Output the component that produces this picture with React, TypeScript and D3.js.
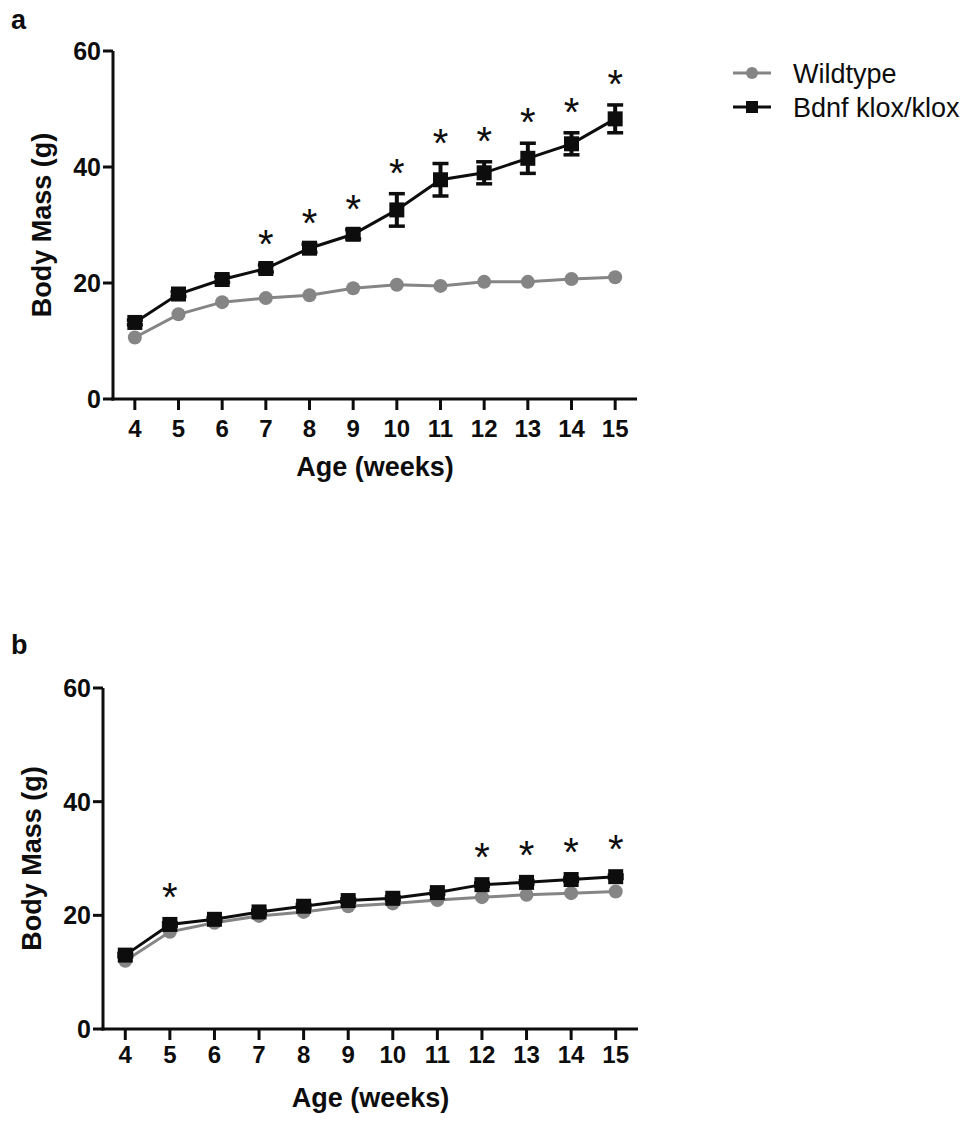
import React from "react";
import * as d3 from "d3";

const weeks = [4, 5, 6, 7, 8, 9, 10, 11, 12, 13, 14, 15];
const yTicks = [0, 20, 40, 60];

// Panel a
const aWildtype = [10.6, 14.6, 16.7, 17.4, 17.9, 19.1, 19.7, 19.5, 20.2, 20.2, 20.7, 21.0];
const aWildtypeSem = [0.3, 0.3, 0.3, 0.3, 0.3, 0.3, 0.3, 0.3, 0.3, 0.3, 0.3, 0.3];
const aKlox = [13.2, 18.1, 20.6, 22.5, 26.0, 28.4, 32.6, 37.8, 39.0, 41.5, 44.0, 48.3];
const aKloxSem = [0.4, 0.4, 0.5, 0.6, 0.7, 0.8, 2.8, 2.8, 1.9, 2.6, 1.9, 2.4];
const aSignificant = [7, 8, 9, 10, 11, 12, 13, 14, 15];

// Panel b
const bWildtype = [12.0, 17.1, 18.7, 19.9, 20.6, 21.6, 22.1, 22.7, 23.2, 23.6, 23.9, 24.2];
const bWildtypeSem = [0.3, 0.3, 0.3, 0.3, 0.3, 0.3, 0.3, 0.3, 0.3, 0.3, 0.3, 0.3];
const bKlox = [13.0, 18.4, 19.3, 20.6, 21.6, 22.6, 23.0, 24.0, 25.4, 25.8, 26.3, 26.8];
const bKloxSem = [0.3, 0.3, 0.3, 0.3, 0.3, 0.3, 0.3, 0.3, 0.3, 0.3, 0.3, 0.3];
const bSignificant = [5, 12, 13, 14, 15];

const legendLabels = ["Wildtype", "Bdnf klox/klox"];
const GRAY = "#858585";
const BLACK = "#0d0d0d";
const FONT = "'Liberation Sans', Arial, Helvetica, sans-serif";

type PanelProps = {
  letter: string;
  left: number;
  right: number;
  top: number;
  bottom: number;
  wt: number[];
  wtSem: number[];
  ko: number[];
  koSem: number[];
  sig: number[];
  starGap: number;
  yTitleX: number;
  tickBaseline: number;
  titleBaseline: number;
  letterY: number;
};

function Panel(p: PanelProps) {
  const x = d3.scaleLinear().domain([3.5, 15.5]).range([p.left, p.right]);
  const y = d3.scaleLinear().domain([0, 60]).range([p.bottom, p.top]);
  const line = d3
    .line<number>()
    .x((_, i) => x(weeks[i]))
    .y((d) => y(d));
  const sq = 15;
  const cap = 8;
  return (
    <g>
      <text x={11} y={p.letterY} fontFamily={FONT} fontWeight="bold" fontSize={27} fill={BLACK}>
        {p.letter}
      </text>
      {/* axes */}
      <line x1={p.left} x2={p.left} y1={p.top} y2={p.bottom + 1.5} stroke={BLACK} strokeWidth={3} />
      <line x1={p.left - 1.5} x2={p.right} y1={p.bottom} y2={p.bottom} stroke={BLACK} strokeWidth={3} />
      {yTicks.map((t) => (
        <g key={"y" + t}>
          <line x1={p.left - 10} x2={p.left} y1={y(t)} y2={y(t)} stroke={BLACK} strokeWidth={3} />
          <text
            x={p.left - 12}
            y={y(t) + 9}
            textAnchor="end"
            fontFamily={FONT}
            fontWeight="bold"
            fontSize={25}
            fill={BLACK}
          >
            {t}
          </text>
        </g>
      ))}
      {weeks.map((w) => (
        <g key={"x" + w}>
          <line x1={x(w)} x2={x(w)} y1={p.bottom} y2={p.bottom + 11} stroke={BLACK} strokeWidth={3} />
          <text
            x={x(w)}
            y={p.tickBaseline}
            textAnchor="middle"
            fontFamily={FONT}
            fontWeight="bold"
            fontSize={24}
            fill={BLACK}
          >
            {w}
          </text>
        </g>
      ))}
      <text
        x={(p.left + p.right) / 2}
        y={p.titleBaseline}
        textAnchor="middle"
        fontFamily={FONT}
        fontWeight="bold"
        fontSize={27}
        fill={BLACK}
      >
        Age (weeks)
      </text>
      <text
        transform={`translate(${p.yTitleX},${(p.top + p.bottom) / 2}) rotate(-90)`}
        textAnchor="middle"
        dominantBaseline="central"
        fontFamily={FONT}
        fontWeight="bold"
        fontSize={27}
        fill={BLACK}
      >
        Body Mass (g)
      </text>
      {/* wildtype */}
      <path d={line(p.wt) || ""} fill="none" stroke={GRAY} strokeWidth={3} />
      {p.wt.map((v, i) => (
        <g key={"wt" + i}>
          <line x1={x(weeks[i])} x2={x(weeks[i])} y1={y(v - p.wtSem[i])} y2={y(v + p.wtSem[i])} stroke={GRAY} strokeWidth={3} />
          <circle cx={x(weeks[i])} cy={y(v)} r={7} fill={GRAY} />
        </g>
      ))}
      {/* klox */}
      <path d={line(p.ko) || ""} fill="none" stroke={BLACK} strokeWidth={3} />
      {p.ko.map((v, i) => {
        const cx = x(weeks[i]);
        const yt = y(v + p.koSem[i]);
        const yb = y(v - p.koSem[i]);
        return (
          <g key={"ko" + i}>
            <line x1={cx} x2={cx} y1={yt} y2={yb} stroke={BLACK} strokeWidth={4} />
            <line x1={cx - cap} x2={cx + cap} y1={yt} y2={yt} stroke={BLACK} strokeWidth={3.5} />
            <line x1={cx - cap} x2={cx + cap} y1={yb} y2={yb} stroke={BLACK} strokeWidth={3.5} />
            <rect x={cx - sq / 2} y={y(v) - sq / 2} width={sq} height={sq} fill={BLACK} />
          </g>
        );
      })}
      {p.sig.map((w) => {
        const i = weeks.indexOf(w);
        const cy = y(p.ko[i] + p.koSem[i]) - p.starGap;
        return (
          <text
            key={"s" + w}
            x={x(w)}
            y={cy + 22}
            textAnchor="middle"
            fontFamily={FONT}
            fontSize={40}
            fill={BLACK}
          >
            *
          </text>
        );
      })}
    </g>
  );
}

export default function App() {
  return (
    <svg
      width={974}
      height={1122}
      viewBox="0 0 974 1122"
      style={{ position: "absolute", left: 0, top: 0, background: "#ffffff" }}
    >
      <rect x={0} y={0} width={974} height={1122} fill="#ffffff" />
      <Panel
        letter="a"
        left={113}
        right={637}
        top={51}
        bottom={399}
        wt={aWildtype}
        wtSem={aWildtypeSem}
        ko={aKlox}
        koSem={aKloxSem}
        sig={aSignificant}
        starGap={29}
        yTitleX={42}
        tickBaseline={437}
        titleBaseline={476}
        letterY={29}
      />
      <Panel
        letter="b"
        left={103}
        right={638}
        top={688}
        bottom={1029}
        wt={bWildtype}
        wtSem={bWildtypeSem}
        ko={bKlox}
        koSem={bKloxSem}
        sig={bSignificant}
        starGap={34}
        yTitleX={32}
        tickBaseline={1063}
        titleBaseline={1107}
        letterY={654}
      />
      {/* legend */}
      <g>
        <line x1={733} x2={771} y1={73} y2={73} stroke={GRAY} strokeWidth={3} />
        <circle cx={752} cy={73} r={6} fill={GRAY} />
        <text x={793} y={83} fontFamily={FONT} fontSize={27} fill={BLACK}>
          {legendLabels[0]}
        </text>
        <line x1={733} x2={771} y1={107} y2={107} stroke={BLACK} strokeWidth={3} />
        <rect x={746} y={101} width={12} height={12} fill={BLACK} />
        <text x={793} y={117} fontFamily={FONT} fontSize={27} fill={BLACK}>
          {legendLabels[1]}
        </text>
      </g>
    </svg>
  );
}
